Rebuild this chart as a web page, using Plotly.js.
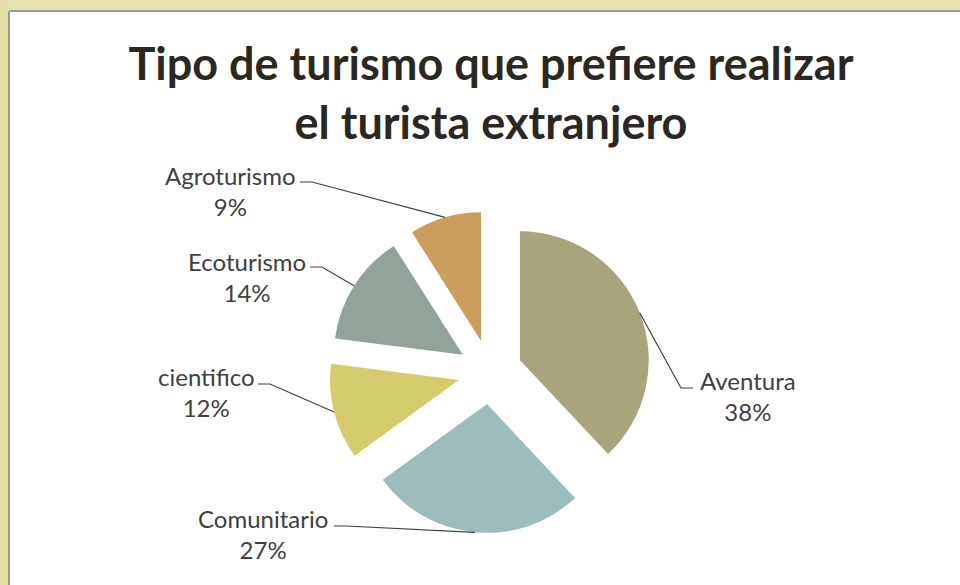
<!DOCTYPE html>
<html>
<head>
<meta charset="utf-8">
<script src="https://cdn.plot.ly/plotly-3.0.1.min.js"></script>
<style>
  html, body { margin: 0; padding: 0; background: #ffffff; }
  #chart { width: 960px; height: 585px; }
</style>
</head>
<body>
<div id="chart"></div>
<script>
// ---- data ----
var categories = ["Aventura", "Comunitario", "cientifico", "Ecoturismo", "Agroturismo"];
var values = [38, 27, 12, 14, 9];
var sliceColors = ["#A8A57D", "#9DBDBD", "#D3CB6C", "#93A39A", "#CC9E5E"];
var titleText = "Tipo de turismo que prefiere realizar<br>el turista extranjero";

// ---- layout geometry (pixels) ----
var W = 960, H = 585;
var pieCx = 490, pieCy = 372, pieHalf = 161;   // box half-size incl. pull
var pullFrac = 0.25;
// label text centers, leader end points and elbows
var labelPos = [
  {tx: 748, ty: 396, ex: 693, ey: 388, bx: 681, by: 388},
  {tx: 263, ty: 534, ex: 334, ey: 526, bx: 346, by: 526},
  {tx: 206, ty: 392, ex: 258, ey: 384, bx: 270, by: 384},
  {tx: 247, ty: 277, ex: 310, ey: 267, bx: 322, by: 267},
  {tx: 230, ty: 191, ex: 300, ey: 182, bx: 312, by: 182}
];

function px(x) { return x / W; }
function py(y) { return 1 - y / H; }

var total = values.reduce(function (a, b) { return a + b; }, 0);
var rPie = pieHalf / (1 + pullFrac);

var annotations = [];
var shapes = [
  // frame: yellow outer band, gray rule
  {type: "rect", xref: "paper", yref: "paper", x0: 0, x1: 1, y0: py(0), y1: py(10), fillcolor: "#E6E2B0", line: {width: 0}, layer: "below"},
  {type: "rect", xref: "paper", yref: "paper", x0: 0, x1: px(8), y0: 0, y1: 1, fillcolor: "#E3DFA6", line: {width: 0}, layer: "below"},
  {type: "line", xref: "paper", yref: "paper", x0: px(9), x1: 1, y0: py(11), y1: py(11), line: {color: "#9A9A96", width: 2}, layer: "below"},
  {type: "line", xref: "paper", yref: "paper", x0: px(9), x1: px(9), y0: py(11), y1: 0, line: {color: "#9A9A96", width: 2}, layer: "below"}
];

var cum = 0;
for (var i = 0; i < values.length; i++) {
  var mid = (cum + values[i] / 2) / total;
  cum += values[i];
  var th = 2 * Math.PI * mid;
  var dx = Math.sin(th), dy = -Math.cos(th);
  var ax = pieCx + rPie * (1 + pullFrac) * dx;
  var ay = pieCy + rPie * (1 + pullFrac) * dy;
  var L = labelPos[i];
  shapes.push({
    type: "path", xref: "paper", yref: "paper",
    path: "M " + px(ax) + " " + py(ay) + " L " + px(L.bx) + " " + py(L.by) + " L " + px(L.ex) + " " + py(L.ey),
    line: {color: "#3F3F3F", width: 1.2}
  });
  annotations.push({
    xref: "paper", yref: "paper", x: px(L.tx), y: py(L.ty),
    xanchor: "center", yanchor: "middle", align: "center", showarrow: false,
    text: categories[i] + "<br>" + values[i] + "%",
    font: {family: "Lato, 'Open Sans', sans-serif", size: 24, color: "#404040"}
  });
}

var trace = {
  type: "pie",
  labels: categories,
  values: values,
  sort: false,
  direction: "clockwise",
  rotation: 0,
  pull: values.map(function () { return pullFrac; }),
  marker: {colors: sliceColors, line: {color: "#ffffff", width: 0}},
  textinfo: "none",
  hoverinfo: "label+percent",
  showlegend: false,
  domain: {
    x: [px(pieCx - pieHalf), px(pieCx + pieHalf)],
    y: [py(pieCy + pieHalf), py(pieCy - pieHalf)]
  }
};

var layout = {
  width: W, height: H,
  margin: {l: 0, r: 0, t: 0, b: 0},
  paper_bgcolor: "#ffffff",
  showlegend: false,
  title: {
    text: "<b>" + titleText + "</b>",
    x: px(491), xanchor: "center",
    y: py(80), yanchor: "middle",
    font: {family: "Lato, 'Open Sans', sans-serif", size: 45, color: "#2A2820"}
  },
  shapes: shapes,
  annotations: annotations
};

Plotly.newPlot("chart", [trace], layout, {displayModeBar: false, staticPlot: true});
</script>
</body>
</html>
